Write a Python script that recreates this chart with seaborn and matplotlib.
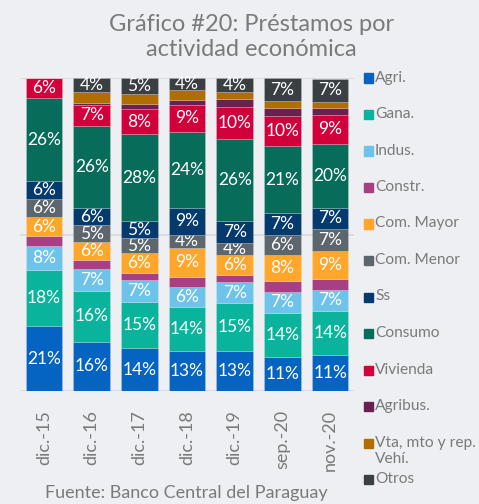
import pandas as pd
import seaborn as sns
import matplotlib.pyplot as plt
import numpy as np
from matplotlib.patches import Rectangle

# Data (share of loans, %)
periods = ['dic.-15', 'dic.-16', 'dic.-17', 'dic.-18', 'dic.-19', 'sep.-20', 'nov.-20']

agri = [20.8, 15.8, 13.7, 12.9, 12.9, 10.8, 11.4]
gana = [17.9, 16.3, 14.9, 14.1, 15.1, 14.3, 14.1]
indus = [7.8, 6.8, 6.9, 6.4, 6.9, 6.7, 6.9]
constr = [3.0, 3.0, 2.1, 3.0, 2.1, 3.4, 3.4]
com_mayor = [6.1, 5.8, 6.4, 9.4, 6.4, 8.4, 8.9]
com_menor = [5.9, 5.3, 4.8, 4.1, 3.9, 6.4, 7.1]
ss = [5.6, 5.5, 5.4, 8.6, 7.0, 6.9, 6.7]
consumo = [26.4, 26.2, 28.0, 24.3, 26.4, 21.3, 20.4]
vivienda = [6.5, 6.8, 7.8, 8.7, 10.0, 9.8, 9.4]
agribus = [0.0, 0.7, 1.6, 1.6, 2.6, 2.5, 2.0]
vta = [0.0, 3.4, 3.4, 3.1, 2.3, 2.1, 2.1]
otros = [0.0, 4.4, 5.0, 3.8, 4.4, 7.4, 7.4]

sectors = ['Agri.', 'Gana.', 'Indus.', 'Constr.', 'Com. Mayor', 'Com. Menor',
           'Ss', 'Consumo', 'Vivienda', 'Agribus.', 'Vta, mto y rep.\nVehí.', 'Otros']
colors = ['#0563C1', '#0AB39B', '#6EC3EA', '#A83E84', '#FFA62B', '#5D666D',
          '#043A6E', '#086C5A', '#D1003B', '#6B2150', '#B06D00', '#3A3F44']

series = [agri, gana, indus, constr, com_mayor, com_menor, ss, consumo,
          vivienda, agribus, vta, otros]
df = pd.DataFrame(dict(zip(sectors, series)), index=periods)

bg = '#EEEFF2'
grey = '#7A7A7A'

sns.set_style('white')
plt.rcParams['font.family'] = ['Lato', 'DejaVu Sans']

fig = plt.figure(figsize=(4.79, 5.04), dpi=100, facecolor=bg)
ax = fig.add_axes([0.042, 0.224, 0.697, 0.621])
ax.set_facecolor(bg)

# Stacked bars
bottom = np.zeros(len(periods))
for name, color in zip(sectors, colors):
    vals = df[name].values
    sns.barplot(x=periods, y=vals, bottom=bottom, color=color, ax=ax,
                width=0.77, edgecolor='#ffffff40', linewidth=0.5,
                saturation=1, zorder=3)
    labels = [f'{round(v)}%' if v >= 3.6 else '' for v in vals]
    ax.bar_label(ax.containers[-1], labels=labels, label_type='center',
                 color='white', fontsize=12.5)
    bottom += vals

ax.set_xlim(-0.5, 6.5)
ax.set_ylim(0, 100)
ax.set_yticks([0, 50, 100])
ax.yaxis.grid(True, color='#D6D7DA', linewidth=1.2, zorder=0)
ax.tick_params(axis='y', left=False, labelleft=False)
ax.tick_params(axis='x', bottom=False, labelrotation=90, labelsize=13,
               labelcolor=grey, pad=10)
for s in ax.spines.values():
    s.set_visible(False)
ax.set_xlabel('')
ax.set_ylabel('')

# Title and source
fig.text(0.525, 0.972, 'Gráfico #20: Préstamos por\nactividad económica',
         ha='center', va='top', fontsize=17, color=grey, linespacing=1.25)
fig.text(0.39, 0.005, 'Fuente: Banco Central del Paraguay', ha='center',
         va='bottom', fontsize=13, color=grey)

# Legend (right column)
y0, step = 1 - 78 / 504, 36.5 / 504
for i, (name, color) in enumerate(zip(sectors, colors)):
    y = y0 - i * step
    fig.patches.append(Rectangle((364 / 479, y - 4.5 / 504), 9 / 479, 9 / 504,
                                 transform=fig.transFigure, color=color))
    fig.text(375 / 479, y + 7.5 / 504, name, ha='left', va='top', fontsize=11.2,
             color=grey, linespacing=1.2)

fig.savefig('out.png', dpi=100, facecolor=bg)
